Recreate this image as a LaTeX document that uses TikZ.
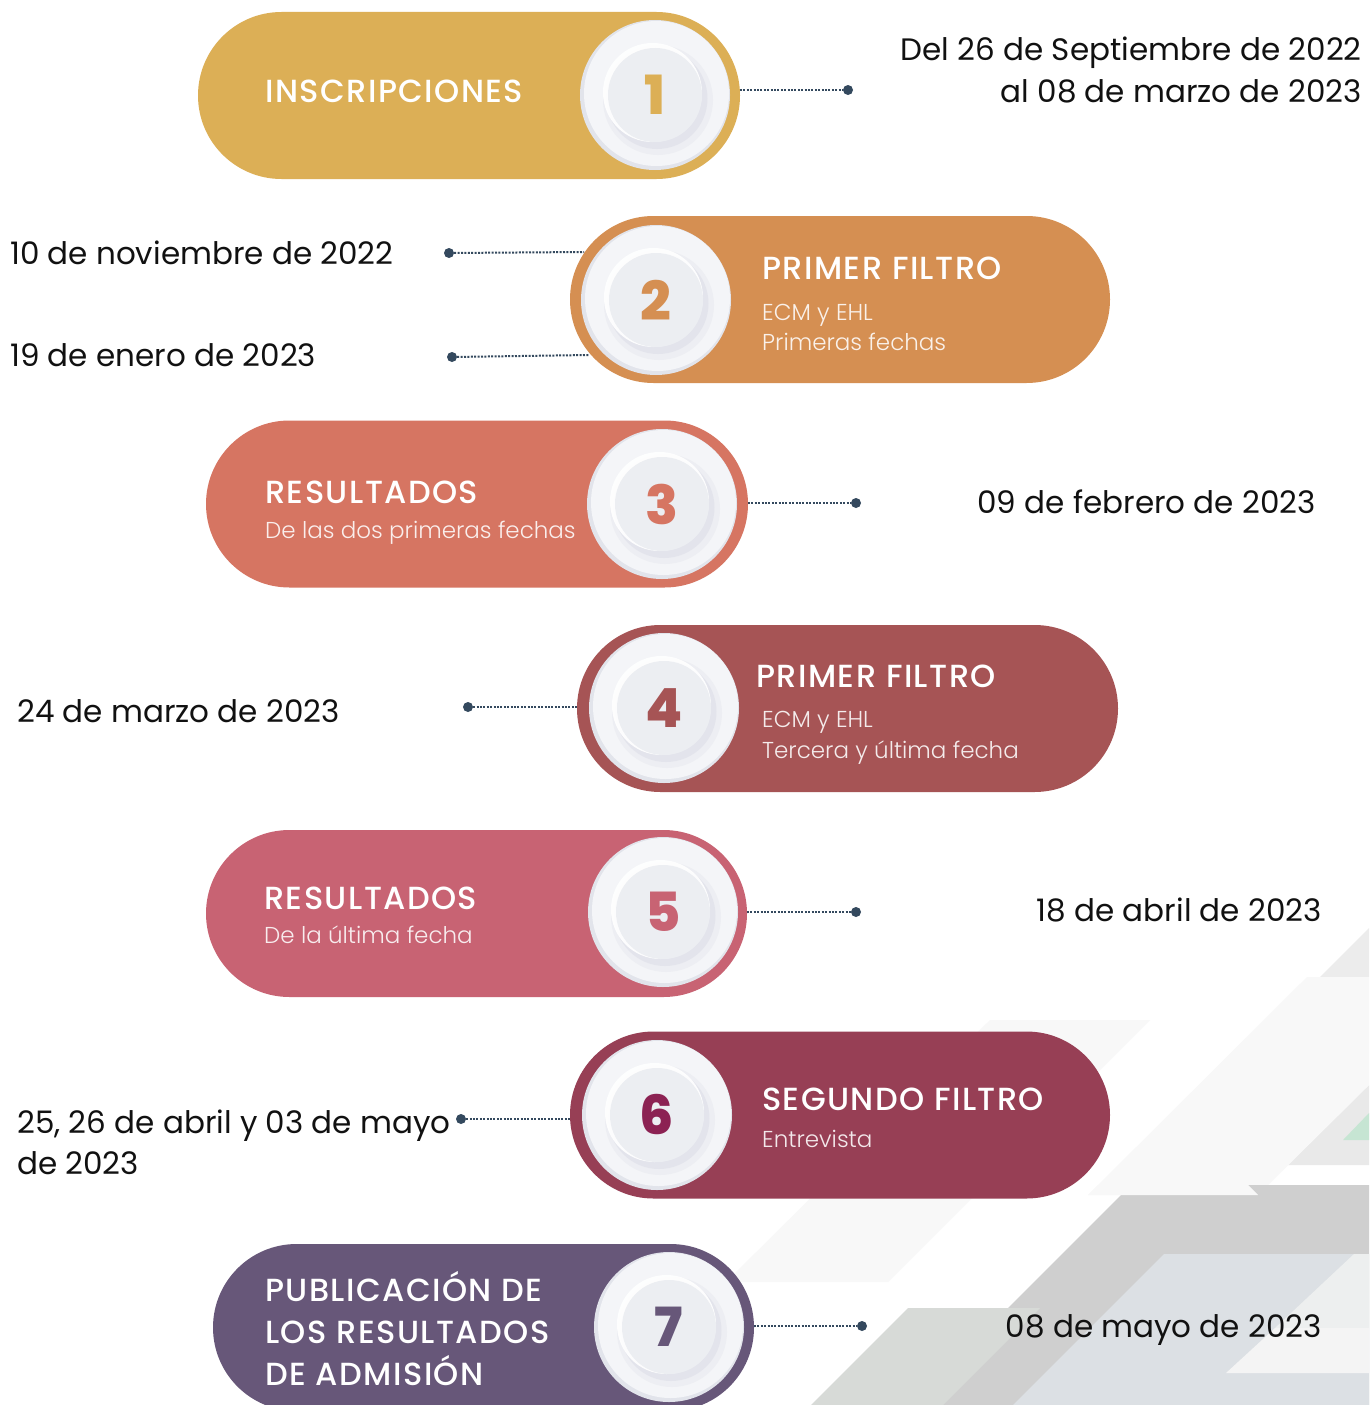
\documentclass[tikz,border=0pt]{standalone}
\usepackage{fontspec}
\setmainfont{Poppins}
\newfontfamily\titlef{Poppins Medium}[LetterSpace=4.5]
\newfontfamily\subf{Poppins Light}
\newfontfamily\numf{Poppins ExtraBold}
\definecolor{cA}{HTML}{DCAF56}
\definecolor{cB}{HTML}{D58F52}
\definecolor{cC}{HTML}{D67562}
\definecolor{cD}{HTML}{A65455}
\definecolor{cE}{HTML}{C86373}
\definecolor{cF}{HTML}{973F55}
\definecolor{cFn}{HTML}{8C2253}
\definecolor{cG}{HTML}{675779}
\definecolor{conc}{HTML}{34495E}
\definecolor{datec}{HTML}{111111}
\definecolor{discedge}{HTML}{E2E4EB}
\definecolor{discface}{HTML}{F4F5F8}
\definecolor{discin}{HTML}{ECEEF2}
\definecolor{discsh}{HTML}{D2D4DF}
\definecolor{bgA}{HTML}{ECECEC}
\definecolor{bgB}{HTML}{F8F8F8}
\definecolor{bgC}{HTML}{E9E9E9}
\definecolor{bgG}{HTML}{C6E5D3}
\definecolor{bgD}{HTML}{CFCFCF}
\definecolor{bgE}{HTML}{D7DAD7}
\definecolor{bgF}{HTML}{DCE0E4}
\definecolor{bgH}{HTML}{EDEFEF}
\definecolor{bgI}{HTML}{F4F4F4}
\tikzset{
  pill/.style={rectangle, rounded corners=83.5pt, minimum height=167pt, inner sep=0pt, draw=none},
  titletxt/.style={font=\titlef\fontsize{32}{38}\selectfont, text=white, inner sep=0pt},
  subtxt/.style={font=\subf\fontsize{23}{28}\selectfont, inner sep=0pt},
  datetxt/.style={font=\fontsize{31}{37}\selectfont, text=datec, inner sep=0pt},
  numtxt/.style={font=\numf\fontsize{54}{60}\selectfont, inner sep=0pt},
  conn/.style={draw=conc, line width=2pt, dash pattern=on 2pt off 1.4pt},
  dotn/.style={circle, fill=conc, minimum size=10pt, inner sep=0pt},
}
\newcommand\stepdisc[5]{%
  \fill[discedge] (#2,#3) circle[radius=75];
  \fill[discface] (#2+1.5,#3-1.5) circle[radius=72.5];
  \fill[discsh, opacity=0.2] (#2+3,#3+5) circle[radius=55];
  \fill[discsh, opacity=0.35] (#2+2,#3+3.5) circle[radius=50.5];
  \fill[white, opacity=0.9] (#2-2.5,#3-2.5) circle[radius=49.5];
  \fill[discin] (#2,#3) circle[radius=47];
  \node[numtxt, text=#4] (#1) at (#2,#3) {#5};
}
\begin{document}
\begin{tikzpicture}[x=1pt,y=-1pt]
\useasboundingbox (0,0) rectangle (1369,1405);
\fill[white] (0,0) rectangle (1369,1405);
% background decoration
\fill[bgA] (1369,928) -- (1369,977) -- (1320,977) -- cycle;
\fill[bgC] (1369,1085) -- (1369,1165) -- (1288,1165) -- cycle;
\fill[bgG] (1343,1140) -- (1369,1113) -- (1369,1140) -- cycle;
\fill[bgB] (1307,977) -- (1369,977) -- (1369,1085) -- (1258,1195) -- (1088,1195) -- cycle;
\fill[bgD] (1131,1185) -- (1369,1185) -- (1369,1405) -- (911,1405) -- cycle;
\fill[bgB] (1088,1195) -- (1258,1195) -- (1248,1185) -- (1098,1185) -- cycle;
\fill[bgB] (990,1020) -- (1150,1020) -- (888,1282) -- (726,1282) -- cycle;
\fill[bgE] (908,1308) -- (1040,1308) -- (943,1405) -- (811,1405) -- cycle;
\fill[bgF] (1164,1254) -- (1369,1254) -- (1369,1405) -- (1013,1405) -- cycle;
\fill[bgH] (1354,1254) -- (1369,1254) -- (1369,1328) -- (1275,1328) -- cycle;
\fill[bgI] (1275,1328) -- (1369,1328) -- (1369,1373) -- (1226,1373) -- cycle;
% pills
\node[pill, fill=cA, minimum width=542pt] (p1) at (469,95.5) {};
\node[pill, fill=cB, minimum width=540pt] (p2) at (840,299.5) {};
\node[pill, fill=cC, minimum width=542pt] (p3) at (477,504) {};
\node[pill, fill=cD, minimum width=541pt] (p4) at (847.5,708.5) {};
\node[pill, fill=cE, minimum width=541pt] (p5) at (476.5,913.5) {};
\node[pill, fill=cF, minimum width=540pt] (p6) at (840,1115) {};
\node[pill, fill=cG, minimum width=541pt] (p7) at (483.5,1327.5) {};
% discs
\stepdisc{n1}{655}{95}{cA}{1}
\stepdisc{n2}{656}{300}{cB}{2}
\stepdisc{n3}{662}{504}{cC}{3}
\stepdisc{n4}{664}{708}{cD}{4}
\stepdisc{n5}{663}{912}{cE}{5}
\stepdisc{n6}{657}{1115}{cFn}{6}
\stepdisc{n7}{669}{1327}{cG}{7}
% titles
\node[titletxt, anchor=base west] (t1) at (265,102.5) {INSCRIPCIONES};
\node[titletxt, anchor=base west] (t2) at (762,279) {PRIMER FILTRO};
\node[subtxt, text=white!88!cB, anchor=base west] (s2a) at (762,320.5) {ECM y EHL};
\node[subtxt, text=white!88!cB, anchor=base west] (s2b) at (762,350.5) {Primeras fechas};
\node[titletxt, anchor=base west] (t3) at (265,503) {RESULTADOS};
\node[subtxt, text=white!88!cC, anchor=base west] (s3) at (265,538.3) {De las dos primeras fechas};
\node[titletxt, anchor=base west] (t4) at (756,687) {PRIMER FILTRO};
\node[subtxt, text=white!88!cD, anchor=base west] (s4a) at (762,727.5) {ECM y EHL};
\node[subtxt, text=white!88!cD, anchor=base west] (s4b) at (762,758.5) {Tercera y última fecha};
\node[titletxt, anchor=base west] (t5) at (264,909) {RESULTADOS};
\node[subtxt, text=white!88!cE, anchor=base west] (s5) at (264,943.5) {De la última fecha};
\node[titletxt, anchor=base west] (t6) at (762,1110) {SEGUNDO FILTRO};
\node[subtxt, text=white!88!cF, anchor=base west] (s6) at (762,1147.5) {Entrevista};
\node[titletxt, anchor=base west] (t7a) at (265,1301) {PUBLICACIÓN DE};
\node[titletxt, anchor=base west] (t7b) at (265,1343) {LOS RESULTADOS};
\node[titletxt, anchor=base west] (t7c) at (265,1385) {DE ADMISIÓN};
% dates
\node[datetxt, anchor=base east] (dt1a) at (1362,61) {Del 26 de Septiembre de 2022};
\node[datetxt, anchor=base east] (dt1b) at (1362,102.5) {al 08 de marzo de 2023};
\node[datetxt, anchor=base west] (dt2a) at (10,264.5) {10 de noviembre de 2022};
\node[datetxt, anchor=base west] (dt2b) at (10,366) {19 de enero de 2023};
\node[datetxt, anchor=base east] (dt3) at (1316,513) {09 de febrero de 2023};
\node[datetxt, anchor=base west] (dt4) at (17,722) {24 de marzo de 2023};
\node[datetxt, anchor=base east] (dt5) at (1322,921) {18 de abril de 2023};
\node[datetxt, anchor=base west] (dt6a) at (17,1133) {25, 26 de abril y 03 de mayo};
\node[datetxt, anchor=base west] (dt6b) at (17,1174.5) {de 2023};
\node[datetxt, anchor=base east] (dt7) at (1322,1337) {08 de mayo de 2023};
% connectors
\coordinate (e1) at (740,90);
\coordinate (e2a) at (584,252);
\coordinate (e2b) at (589,355);
\coordinate (e3) at (748,503);
\coordinate (e4) at (577,707);
\coordinate (e5) at (747,912);
\coordinate (e6) at (570,1119);
\coordinate (e7) at (754,1326);
\node[dotn] (d1) at (848,90) {};
\node[dotn] (d2a) at (449,253) {};
\node[dotn] (d2b) at (452,357) {};
\node[dotn] (d3) at (856,503) {};
\node[dotn] (d4) at (468,707) {};
\node[dotn] (d5) at (856,912) {};
\node[dotn] (d6) at (461,1119) {};
\node[dotn] (d7) at (862,1326) {};
\draw[conn] (e1) -- (d1);
\draw[conn] (d2a) -- (e2a);
\draw[conn] (d2b) -- (e2b);
\draw[conn] (e3) -- (d3);
\draw[conn] (d4) -- (e4);
\draw[conn] (e5) -- (d5);
\draw[conn] (d6) -- (e6);
\draw[conn] (e7) -- (d7);
\end{tikzpicture}
\end{document}
